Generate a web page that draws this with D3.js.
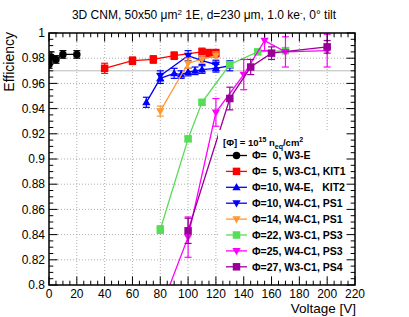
<!DOCTYPE html>
<html>
<head>
<meta charset="utf-8">
<script src="https://cdn.jsdelivr.net/npm/d3@7"></script>
<style>
  body { margin: 0; background: #fff; }
  svg { font-family: "Liberation Sans", Arial, sans-serif; }
  text { white-space: pre; }
</style>
</head>
<body>
<div id="chart"></div>
<script>
// data
const v0 = [0, 1.5, 5, 10, 20];
const e0 = [0.975, 0.981, 0.979, 0.983, 0.983];
const r0 = [0.003, 0.004, 0.003, 0.003, 0.003];

const v5 = [40, 60, 75, 90, 110, 115, 120];
const e5 = [0.972, 0.978, 0.979, 0.982, 0.985, 0.984, 0.984];
const r5 = [0.004, 0.003, 0.003, 0.003, 0.003, 0.003, 0.003];

const v10a = [70, 80, 90, 95, 100, 105, 110, 120, 130];
const e10a = [0.945, 0.964, 0.968, 0.967, 0.969, 0.970, 0.971, 0.972, 0.974];
const r10a = [0.004, 0.004, 0.004, 0.003, 0.003, 0.003, 0.003, 0.003, 0.004];

const v10b = [80, 100, 110, 120];
const e10b = [0.966, 0.982, 0.978, 0.975];
const r10b = [0.004, 0.004, 0.003, 0.003];

const v14 = [80, 100, 110, 120];
const e14 = [0.938, 0.976, 0.979, 0.982];
const r14 = [0.004, 0.004, 0.003, 0.003];

const v22 = [80, 100, 110, 130, 150, 170];
const e22 = [0.844, 0.916, 0.945, 0.975, 0.985, 0.986];
const r22 = [0.003, 0.002, 0.002, 0.002, 0.002, 0.002];

const v25 = [80, 100, 120, 140, 155, 170, 200];
const e25 = [0.78, 0.838, 0.937, 0.967, 0.994, 0.985, 0.986];
const r25 = [0.012, 0.016, 0.011, 0.012, 0.008, 0.012, 0.013];

const v27 = [100, 130, 145, 160, 200];
const e27 = [0.843, 0.948, 0.973, 0.984, 0.989];
const r27 = [0.010, 0.009, 0.006, 0.005, 0.005];

const xTicks = [0, 20, 40, 60, 80, 100, 120, 140, 160, 180, 200, 220];
const yTicks = [0.8, 0.82, 0.84, 0.86, 0.88, 0.9, 0.92, 0.94, 0.96, 0.98, 1];

const series = [
  {label: "Φ=  0, W3-E", color: "#000000", shape: "circle", v: v0, e: e0, r: r0},
  {label: "Φ=  5, W3-C1, KIT1", color: "#ff0000", shape: "square", v: v5, e: e5, r: r5},
  {label: "Φ=10, W4-E,   KIT2", color: "#0000ff", shape: "up", v: v10a, e: e10a, r: r10a},
  {label: "Φ=10, W4-C1, PS1", color: "#0000ff", shape: "down", v: v10b, e: e10b, r: r10b},
  {label: "Φ=14, W4-C1, PS1", color: "#ff9933", shape: "down", v: v14, e: e14, r: r14},
  {label: "Φ=22, W3-C1, PS3", color: "#55dd55", shape: "square", v: v22, e: e22, r: r22},
  {label: "Φ=25, W4-C1, PS3", color: "#ff00ff", shape: "down", v: v25, e: e25, r: r25},
  {label: "Φ=27, W3-C1, PS4", color: "#990099", shape: "square", v: v27, e: e27, r: r27}
];

const W = 409, H = 317;
const margin = {top: 33, right: 54, bottom: 32, left: 49};
const width = W - margin.left - margin.right,
    height = H - margin.top - margin.bottom;

const svg = d3.select("#chart").append("svg")
    .attr("width", W).attr("height", H);

const g = svg.append("g")
    .attr("transform", "translate(" + margin.left + "," + margin.top + ")");

const x = d3.scaleLinear().domain([0, 220]).range([0, width]);
const y = d3.scaleLinear().domain([0.8, 1]).range([height, 0]);

// title
svg.append("text")
    .attr("x", 204).attr("y", 19)
    .attr("text-anchor", "middle")
    .style("font-size", "12px")
    .html('3D CNM, 50x50 μm<tspan dy="-4" font-size="8px">2</tspan><tspan dy="4"> 1E, d=230 μm, 1.0 ke</tspan><tspan dy="-4" font-size="8px">-</tspan><tspan dy="4">, 0° tilt</tspan>');

// grid
g.append("g").selectAll("line").data(xTicks.slice(1, -1)).join("line")
    .attr("x1", d => x(d)).attr("x2", d => x(d))
    .attr("y1", 0).attr("y2", height)
    .attr("stroke", "#999").attr("stroke-width", 0.8)
    .attr("stroke-dasharray", "1,2");
g.append("g").selectAll("line").data(yTicks.slice(1, -1)).join("line")
    .attr("x1", 0).attr("x2", width)
    .attr("y1", d => y(d)).attr("y2", d => y(d))
    .attr("stroke", "#999").attr("stroke-width", 0.8)
    .attr("stroke-dasharray", "1,2");

// reference line at 0.97
g.append("line")
    .attr("x1", 0).attr("x2", width)
    .attr("y1", y(0.97)).attr("y2", y(0.97))
    .attr("stroke", "#bbb").attr("stroke-width", 1);

// clip region for data
svg.append("defs").append("clipPath").attr("id", "clip")
  .append("rect").attr("width", width).attr("height", height);

const plot = g.append("g").attr("clip-path", "url(#clip)");

function markerPath(shape, s) {
  if (shape === "square") return d3.symbol(d3.symbolSquare, s * s)();
  if (shape === "circle") return d3.symbol(d3.symbolCircle, Math.PI * s * s / 4)();
  const h = s * 0.95, w = s * 0.55;
  if (shape === "up") return "M0," + (-h * 0.6) + "L" + w + "," + (h * 0.4) + "L" + (-w) + "," + (h * 0.4) + "Z";
  return "M0," + (h * 0.6) + "L" + w + "," + (-h * 0.4) + "L" + (-w) + "," + (-h * 0.4) + "Z";
}

const line = d3.line().x(d => x(d.v)).y(d => y(d.e));

series.forEach(s => {
  const pts = s.v.map((v, i) => ({v: v, e: s.e[i], r: s.r[i]}));
  const sg = plot.append("g");
  sg.append("path").datum(pts)
      .attr("d", line)
      .attr("fill", "none")
      .attr("stroke", s.color)
      .attr("stroke-width", 1.3);
  // error bars
  const eb = sg.append("g").selectAll("g").data(pts).join("g")
      .attr("stroke", s.color).attr("stroke-width", 1.2);
  eb.append("line")
      .attr("x1", d => x(d.v)).attr("x2", d => x(d.v))
      .attr("y1", d => y(d.e - d.r)).attr("y2", d => y(d.e + d.r));
  eb.append("line")
      .attr("x1", d => x(d.v) - 3.5).attr("x2", d => x(d.v) + 3.5)
      .attr("y1", d => y(d.e - d.r)).attr("y2", d => y(d.e - d.r));
  eb.append("line")
      .attr("x1", d => x(d.v) - 3.5).attr("x2", d => x(d.v) + 3.5)
      .attr("y1", d => y(d.e + d.r)).attr("y2", d => y(d.e + d.r));
  sg.append("g").selectAll("path").data(pts).join("path")
      .attr("transform", d => "translate(" + x(d.v) + "," + y(d.e) + ")")
      .attr("d", markerPath(s.shape, 7.5))
      .attr("fill", s.color);
});

// legend
const lg = g.append("g").attr("transform", "translate(" + (218 - margin.left) + ",0)");
lg.append("rect")
    .attr("x", 0).attr("y", 130 - margin.top)
    .attr("width", width - (218 - margin.left)).attr("height", 145)
    .attr("fill", "#fff");
lg.append("text")
    .attr("x", 5).attr("y", 146 - margin.top)
    .style("font-size", "9.5px").style("font-weight", "bold")
    .html('[Φ] = 10<tspan dy="-4" font-size="7px">15</tspan><tspan dy="4"> n</tspan><tspan dy="2.5" font-size="7px">eq</tspan><tspan dy="-2.5">/cm</tspan><tspan dy="-4" font-size="7px">2</tspan>');

const rows = lg.selectAll("g.row").data(series).join("g")
    .attr("class", "row")
    .attr("transform", (d, i) => "translate(0," + (155.5 + i * 15.9 - margin.top) + ")");
rows.append("line")
    .attr("x1", 8).attr("x2", 29).attr("y1", 0).attr("y2", 0)
    .attr("stroke", d => d.color).attr("stroke-width", 1.3);
rows.append("path")
    .attr("transform", "translate(18.5,0)")
    .attr("d", d => markerPath(d.shape, 7.5))
    .attr("fill", d => d.color);
rows.append("text")
    .attr("x", 34).attr("y", 0).attr("dy", "0.36em")
    .style("font-size", "10.5px").style("font-weight", "bold")
    .text(d => d.label);

// axes with ROOT-style inner ticks
const xMinor = d3.range(0, 221, 5);
const yMinor = d3.range(0, 41).map(i => 0.8 + i * 0.005);
const ax = g.append("g").attr("stroke", "#000").attr("stroke-width", 1);
xMinor.forEach(v => {
  const len = (v % 20 === 0) ? 8.5 : 4.3;
  ax.append("line").attr("x1", x(v)).attr("x2", x(v)).attr("y1", height).attr("y2", height - len);
  ax.append("line").attr("x1", x(v)).attr("x2", x(v)).attr("y1", 0).attr("y2", len);
});
yMinor.forEach((v, i) => {
  const len = (i % 4 === 0) ? 8.5 : 4.3;
  ax.append("line").attr("x1", 0).attr("x2", len).attr("y1", y(v)).attr("y2", y(v));
  ax.append("line").attr("x1", width).attr("x2", width - len).attr("y1", y(v)).attr("y2", y(v));
});
g.append("rect")
    .attr("width", width).attr("height", height)
    .attr("fill", "none").attr("stroke", "#000").attr("stroke-width", 1.5);

// tick labels
g.append("g").selectAll("text").data(xTicks).join("text")
    .attr("x", d => x(d)).attr("y", height + 12.5)
    .attr("text-anchor", "middle")
    .style("font-size", "12px")
    .text(d => d);
g.append("g").selectAll("text").data(yTicks).join("text")
    .attr("x", -4).attr("y", d => y(d)).attr("dy", "0.35em")
    .attr("text-anchor", "end")
    .style("font-size", "12px")
    .text(d => d3.format("~g")(+d.toFixed(2)));

// axis titles
svg.append("text")
    .attr("x", 356).attr("y", 313)
    .attr("text-anchor", "end")
    .style("font-size", "13.5px")
    .text("Voltage [V]");
svg.append("text")
    .attr("transform", "translate(14,32) rotate(-90)")
    .attr("text-anchor", "end")
    .style("font-size", "14px")
    .text("Efficiency");
</script>
</body>
</html>
